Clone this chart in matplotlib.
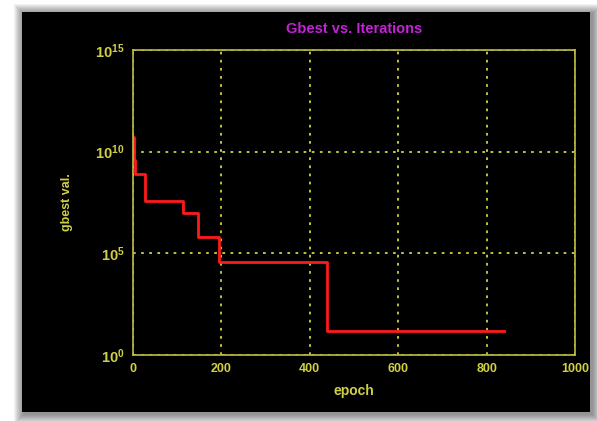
import matplotlib
matplotlib.use('Agg')
import matplotlib.pyplot as plt
from matplotlib.patches import Rectangle
import numpy as np

# Data (step curve of best value per epoch)
epochs = [0, 2, 5, 28, 113, 148, 195, 440, 840]
log_gbest = [10.7, 9.6, 8.9, 7.55, 7.0, 5.8, 4.55, 1.2, 1.2]
gbest = [10 ** v for v in log_gbest]

x_ticks = [0, 200, 400, 600, 800, 1000]
y_ticks = [1e0, 1e5, 1e10, 1e15]

yellow = '#d0d045'
axis_yellow = '#bdbd45'
magenta = '#c421d8'

plt.rcParams['font.family'] = ['Liberation Sans', 'DejaVu Sans']
plt.rcParams['mathtext.fontset'] = 'custom'
plt.rcParams['mathtext.rm'] = 'Liberation Sans:bold'
plt.rcParams['mathtext.default'] = 'rm'

fig = plt.figure(figsize=(5.97, 4.21), dpi=100, facecolor='white')

# Soft shadow around the black panel
W, H = 597, 421
x0, y0, x1, y1 = 22, 12, 590, 412
for i in range(10, 0, -1):
    pad = i * 1.0
    fig.patches.append(Rectangle(((x0 - pad + 2) / W, (H - y1 - pad - 2) / H),
                                 (x1 - x0 + 2 * pad) / W, (y1 - y0 + 2 * pad) / H,
                                 transform=fig.transFigure, color='black',
                                 alpha=0.05, lw=0, zorder=-5))
fig.patches.append(Rectangle((x0 / W, (H - y1) / H), (x1 - x0) / W, (y1 - y0) / H,
                             transform=fig.transFigure, color='black', lw=0, zorder=-4))

ax = fig.add_axes([133 / W, (H - 355) / H, (575 - 133) / W, (355 - 50) / H])
ax.set_facecolor('black')
ax.plot(epochs, gbest, color='#ff1a1a', linewidth=2, drawstyle='steps-post')

ax.set_yscale('log')
ax.set_xlim(0, 1000)
ax.set_ylim(1e0, 1e15)
ax.set_xticks(x_ticks)
ax.set_yticks(y_ticks)
ax.set_yticklabels(['$10^{0}$', '$10^{5}$', '$10^{10}$', '$10^{15}$'])
ax.minorticks_off()

ax.grid(True, color=yellow, linestyle=(0, (1.5, 3)), linewidth=1.3)
for s in ax.spines.values():
    s.set_color(axis_yellow)
    s.set_linewidth(1.2)
ax.tick_params(colors=yellow, labelsize=9, length=0, pad=6)
ax.tick_params(axis='y', labelsize=10.5)
for lbl in ax.get_xticklabels():
    lbl.set_fontweight('bold')

ax.set_xlabel('epoch', color=yellow, fontsize=10, fontweight='bold', labelpad=6)
ax.set_ylabel('gbest val.', color=yellow, fontsize=9, fontweight='bold', labelpad=16)
ax.set_title('Gbest vs. Iterations', color=magenta, fontsize=10.5, fontweight='bold', pad=12)

fig.savefig('out.png', dpi=100, facecolor='white')
